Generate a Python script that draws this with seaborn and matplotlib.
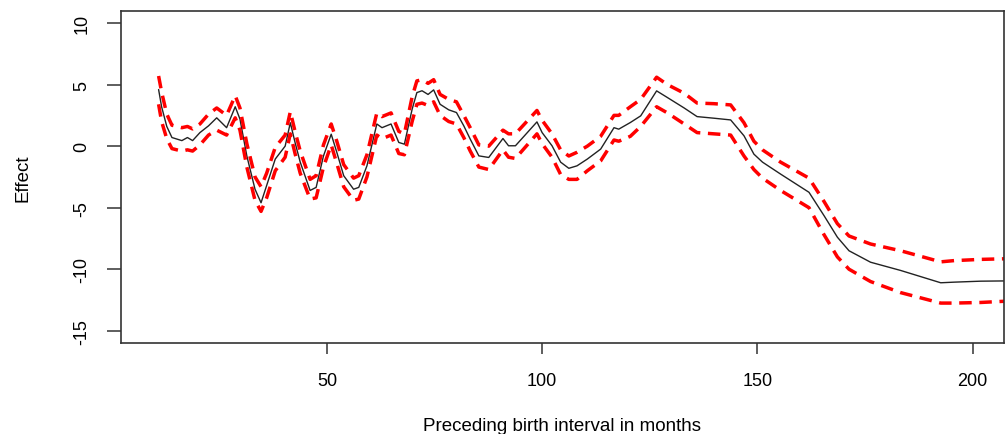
import matplotlib
matplotlib.use('Agg')
import matplotlib.pyplot as plt
import numpy as np
import pandas as pd
import seaborn as sns

# birth interval (months)
months = [10.9, 11.6, 12.8, 14.0, 16.3, 17.6, 18.8, 20.5, 22.5, 24.4,
          26.7, 28.7, 29.8, 31.4, 33.3, 34.7, 36.0, 38.0, 40.3, 41.5,
          42.6, 43.8, 46.1, 47.5, 49.2, 51.0, 52.3, 53.9, 56.2, 57.4,
          59.3, 61.6, 62.8, 64.9, 66.7, 68.0, 69.8, 70.9, 72.1, 73.5,
          74.8, 76.3, 78.3, 80.1, 81.8, 83.3, 85.3, 87.6, 90.9, 92.2,
          93.8, 98.8, 100.0, 102.3, 104.3, 106.2, 108.1, 110.5, 113.6, 116.7,
          117.8, 120.5, 122.9, 126.6, 129.1, 133.0, 136.0, 139.9, 143.8, 146.9,
          149.2, 151.2, 155.4, 162.0, 165.5, 168.6, 171.3, 176.3, 183.3, 192.6,
          195.7, 201.9, 207.5]

effect = [4.6, 3.2, 1.6, 0.7, 0.45, 0.7, 0.45, 1.1, 1.65, 2.3,
          1.5, 3.2, 2.2, -0.8, -3.5, -4.6, -3.2, -1.05, 0.0, 1.9,
          0.3, -1.3, -3.6, -3.35, -0.8, 0.97, -0.5, -2.4, -3.5, -3.35,
          -1.6, 1.8, 1.5, 1.8, 0.3, 0.16, 3.0, 4.35, 4.5, 4.2,
          4.57, 3.4, 2.95, 2.73, 1.65, 0.57, -0.79, -0.92, 0.62, 0.03,
          0.03, 1.97, 1.1, 0.03, -1.3, -1.8, -1.6, -1.05, -0.24, 1.5,
          1.38, 1.92, 2.46, 4.49, 3.95, 3.1, 2.4, 2.27, 2.13, 0.84,
          -0.65, -1.3, -2.27, -3.75, -5.65, -7.4, -8.5, -9.43, -10.1, -11.1,
          -11.05, -10.97, -10.95]

upper = [5.7, 4.4, 2.6, 1.7, 1.5, 1.6, 1.4, 1.8, 2.6, 3.1,
         2.5, 4.1, 3.1, 0.2, -2.5, -3.3, -2.2, -0.1, 0.9, 2.8,
         1.2, -0.4, -2.7, -2.4, 0.1, 1.8, 0.4, -1.5, -2.6, -2.4,
         -0.7, 2.7, 2.4, 2.7, 1.2, 1.0, 4.0, 5.3, 5.4, 5.1,
         5.4, 4.2, 3.8, 3.6, 2.5, 1.5, 0.1, 0.0, 1.3, 1.0,
         1.0, 2.9, 2.1, 1.0, -0.3, -0.8, -0.5, 0.0, 0.8, 2.5,
         2.5, 3.2, 3.8, 5.6, 5.0, 4.3, 3.5, 3.45, 3.35, 1.9,
         0.4, -0.3, -1.3, -2.6, -4.5, -6.3, -7.3, -7.95, -8.5, -9.4,
         -9.3, -9.2, -9.15]

lower = [3.4, 2.0, 0.6, -0.2, -0.4, -0.3, -0.4, 0.1, 0.9, 1.3,
         0.9, 2.3, 1.3, -1.7, -4.4, -5.3, -4.2, -2.0, -0.9, 1.0,
         -0.6, -2.2, -4.3, -4.2, -1.7, 0.1, -1.4, -3.3, -4.4, -4.3,
         -2.5, 0.9, 0.6, 0.9, -0.6, -0.7, 2.0, 3.4, 3.5, 3.3,
         3.6, 2.5, 2.0, 1.8, 0.7, -0.4, -1.7, -1.9, -0.3, -0.9,
         -1.0, 1.0, 0.2, -0.9, -2.3, -2.7, -2.7, -2.0, -1.2, 0.5,
         0.4, 0.8, 1.6, 3.2, 2.7, 1.8, 1.1, 1.0, 0.9, -0.8,
         -1.9, -2.6, -3.6, -5.0, -7.2, -9.0, -10.0, -11.0, -11.9, -12.75,
         -12.75, -12.7, -12.6]

x_ticks = [50, 100, 150, 200]
y_ticks = [-15, -10, -5, 0, 5, 10]

df = pd.DataFrame({'months': months, 'effect': effect,
                   'upper': upper, 'lower': lower})

sns.set_theme(style='white')
plt.rcParams['font.family'] = ['Liberation Sans', 'DejaVu Sans']
plt.rcParams['text.color'] = 'black'
plt.rcParams['axes.labelcolor'] = 'black'
plt.rcParams['xtick.color'] = 'black'
plt.rcParams['ytick.color'] = 'black'

fig = plt.figure(figsize=(10.06, 4.35), dpi=100)
ax = fig.add_axes([0.12, 0.209, 0.878, 0.764])

sns.lineplot(data=df, x='months', y='effect', ax=ax, color='#222222',
             linewidth=1.0, sort=False, errorbar=None)
# confidence band as red dashed lines
for col in ['upper', 'lower']:
    sns.lineplot(data=df, x='months', y=col, ax=ax, color='#ff0000',
                 linewidth=2.5, linestyle=(0, (3.6, 2.2)), sort=False,
                 errorbar=None)

ax.set_xlim(2.1, 207.3)
ax.set_ylim(-16, 11)
ax.set_xticks(x_ticks)
ax.set_yticks(y_ticks)
ax.set_yticklabels([str(v) for v in y_ticks], rotation=90, va='center')

for s in ax.spines.values():
    s.set_visible(True)
    s.set_color('#333333')
    s.set_linewidth(1.2)

ax.tick_params(axis='x', direction='out', length=8, width=1.1, color='#333333',
               labelsize=13, pad=13, bottom=True)
ax.tick_params(axis='y', direction='out', length=10, width=1.1, color='#333333',
               labelsize=13, pad=12, left=True)

ax.set_xlabel('Preceding birth interval in months', fontsize=13.5, labelpad=20)
ax.set_ylabel('Effect', fontsize=13.5, labelpad=30)

fig.savefig('out.png', dpi=100)
